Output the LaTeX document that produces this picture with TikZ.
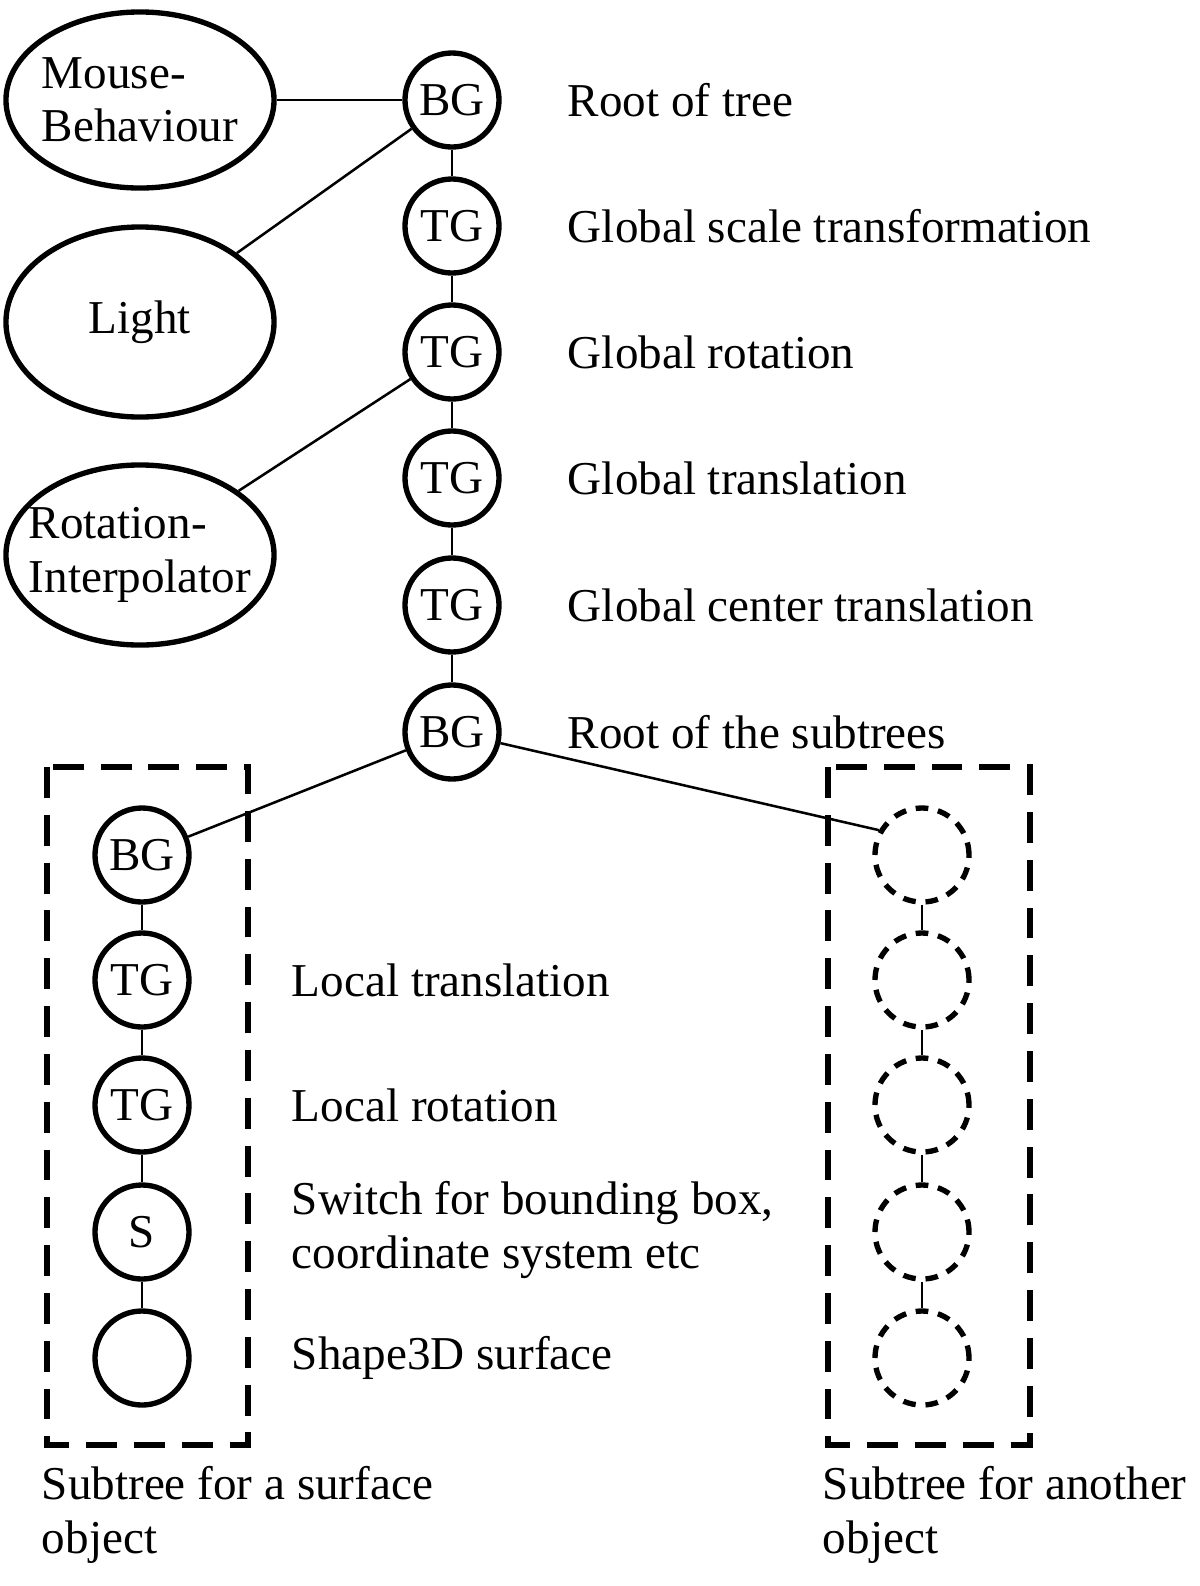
\documentclass[tikz,border=0pt]{standalone}
\usepackage{fontspec}
\setmainfont{Liberation Serif}
\usetikzlibrary{positioning, shapes}

\begin{document}
\begin{tikzpicture}[x=0.025cm, y=-0.025cm, every node/.style={font=\fontsize{33.5}{38}\selectfont},
    grp/.style={draw, circle, line width=3.8pt, minimum size=2.35cm, inner sep=0pt},
    ghost/.style={draw, circle, line width=3.8pt, dash pattern=on 9pt off 7pt, minimum size=2.35cm},
    beh/.style={draw, ellipse, line width=3.8pt, minimum width=6.7cm, inner xsep=-40pt, inner ysep=0pt, align=left},
    lbl/.style={anchor=west, align=left},
    box/.style={draw, line width=3.8pt, dash pattern=on 22pt off 12pt},
    link/.style={line width=1.8pt}]
  \useasboundingbox (0,0) rectangle (1200,1586);
  % main chain
  \node (bg0) [grp] at (452,100) {BG};
  \node (tg1) [grp] at (452,226) {TG};
  \node (tg2) [grp] at (452,352) {TG};
  \node (tg3) [grp] at (452,478) {TG};
  \node (tg4) [grp] at (452,605) {TG};
  \node (bg1) [grp] at (452,732) {BG};
  \draw[link] (bg0) -- (tg1) (tg1) -- (tg2) (tg2) -- (tg3) (tg3) -- (tg4) (tg4) -- (bg1);

  % behaviours
  \node (mouse) [beh, minimum height=4.4cm] at (140,100) {Mouse-\\Behaviour};
  \node (light) [beh, minimum height=4.75cm] at (140,322) {Light};
  \node (rot) [beh, minimum height=4.5cm] at (140,555) {Rotation-\\Interpolator};
  \draw[link] (mouse) -- (bg0);
  \draw[link] (light) -- (bg0);
  \draw[link] (rot) -- (tg2);

  % labels
  \node [lbl] at (563,100) {Root of tree};
  \node [lbl] at (563,226) {Global scale transformation};
  \node [lbl] at (563,352) {Global rotation};
  \node [lbl] at (563,478) {Global translation};
  \node [lbl] at (563,605) {Global center translation};
  \node [lbl] at (563,732) {Root of the subtrees};

  % surface subtree
  \draw[box] (47,767) rectangle (248,1445);
  \node (sbg) [grp] at (142,855) {BG};
  \node (stg1) [grp] at (142,980) {TG};
  \node (stg2) [grp] at (142,1105) {TG};
  \node (ssw) [grp] at (142,1232) {S};
  \node (ssh) [grp] at (142,1358) {};
  \draw[link] (sbg) -- (stg1) (stg1) -- (stg2) (stg2) -- (ssw) (ssw) -- (ssh);
  \draw[link] (bg1) -- (sbg);
  \node [lbl] at (287,980) {Local translation};
  \node [lbl] at (287,1105) {Local rotation};
  \node [lbl] at (287,1230) {Switch for bounding box,\\coordinate system etc};
  \node [lbl] at (287,1358) {Shape3D surface};
  \node [lbl] at (37,1515) {Subtree for a surface\\object};

  % other subtree
  \draw[box] (828,767) rectangle (1030,1445);
  \node (o1) [ghost] at (922,855) {};
  \node (o2) [ghost] at (922,980) {};
  \node (o3) [ghost] at (922,1105) {};
  \node (o4) [ghost] at (922,1232) {};
  \node (o5) [ghost] at (922,1358) {};
  \draw[link] (o1) -- (o2) (o2) -- (o3) (o3) -- (o4) (o4) -- (o5);
  \draw[link] (bg1) -- (o1.150);
  \node [lbl] at (818,1515) {Subtree for another\\object};
\end{tikzpicture}
\end{document}
